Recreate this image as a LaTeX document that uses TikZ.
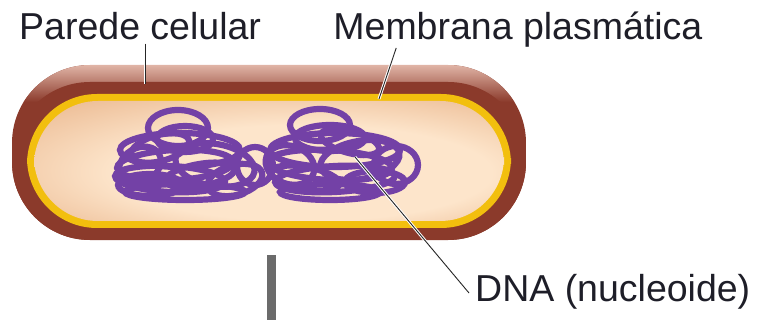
\documentclass[tikz,border=0pt]{standalone}
\usepackage{fontspec}
\setmainfont{Liberation Sans}
\usetikzlibrary{positioning}

\definecolor{wall}{HTML}{8B3A2B}
\definecolor{wallhi}{HTML}{E0B4A6}
\definecolor{membrane}{HTML}{F2BF0E}
\definecolor{cytolight}{HTML}{FDE5CB}
\definecolor{cytotan}{HTML}{E09F6E}
\definecolor{dnapurple}{HTML}{7341A6}
\definecolor{labelgray}{HTML}{1E1E28}
\definecolor{stemgray}{HTML}{6B6B6B}

% light in the middle, darker towards the edges
\pgfdeclareradialshading{cytoplasm}{\pgfpoint{6bp}{-8bp}}{color(0bp)=(cytolight); color(20bp)=(cytolight); color(48bp)=(cytotan); color(52bp)=(cytotan)}

\begin{document}
\begin{tikzpicture}[x=1pt,y=-1pt,
	lbl/.style={inner sep=0pt,text=labelgray,font=\fontsize{37.5}{40}\selectfont},
	leader/.style={draw=white,double=black!85,double distance=0.9pt,line width=1pt},
	dnaloop/.style={draw=dnapurple,line width=6.2pt},
	cell/.style={rounded corners=78pt}]
	\useasboundingbox[fill=white] (0,0) rectangle (762,320);

	% cell wall with its lit top edge
	\begin{scope}
		\clip[cell] (12,65) rectangle (526,240);
		\fill[wall] (12,65) rectangle (526,240);
		\shade[top color=wallhi,bottom color=wall] (12,65) rectangle (526,102);
		\fill[wall,cell] (12,82) rectangle (526,257);
	\end{scope}
	% plasma membrane and cytoplasm
	\fill[membrane,rounded corners=70pt] (27,94) rectangle (511,228);
	\shade[shading=cytoplasm,rounded corners=64pt] (34,101) rectangle (504,221);

	% nucleoid: two tangles of loops
	\foreach \cx/\cy/\rx/\ry/\ang in {178/128/30/18/0, 185/139/28/13/0, 180/150/60/17/0, 175/165/58/15/3,
		170/179/55/13/-3, 185/192/60/8/0, 140/165/22/17/30, 215/165/40/21/-10, 200/175/35/11/10,
		150/185/32/11/0, 235/180/28/15/15, 255/166/18/19/0, 160/148/30/13/15,
		320/125/30/16/0, 330/138/35/13/0, 335/150/65/17/0, 330/165/62/15/-3, 335/179/60/13/3,
		330/192/50/8/0, 396/165/22/19/0, 290/165/25/19/-20, 360/160/40/19/10, 305/178/35/11/-10,
		375/182/30/11/0, 350/142/30/11/-15}
		\draw[dnaloop,rotate around={\ang:(\cx,\cy)}] (\cx,\cy) ellipse [x radius=\rx,y radius=\ry];

	\fill[stemgray] (267,255) rectangle (276,320);

	% labels
	\node[lbl,anchor=base west] (parede) at (19,40) {Parede celular};
	\node[lbl,base right=72pt of parede] (membrana) {Membrana plasmática};
	\node[lbl,anchor=base west] (dna) at (475,301) {DNA (nucleoide)};

	\coordinate (wallpt) at (145,84);
	\coordinate (membend) at (379,99);
	\coordinate (dnaend) at (355,157);
	\draw[leader] ([yshift=-3pt]wallpt |- parede.south) -- (wallpt);
	\draw[leader] ([xshift=63pt]membrana.south west) -- (membend);
	\draw[leader] ([xshift=-6pt,yshift=8pt]dna.base west) -- (dnaend);
\end{tikzpicture}
\end{document}
